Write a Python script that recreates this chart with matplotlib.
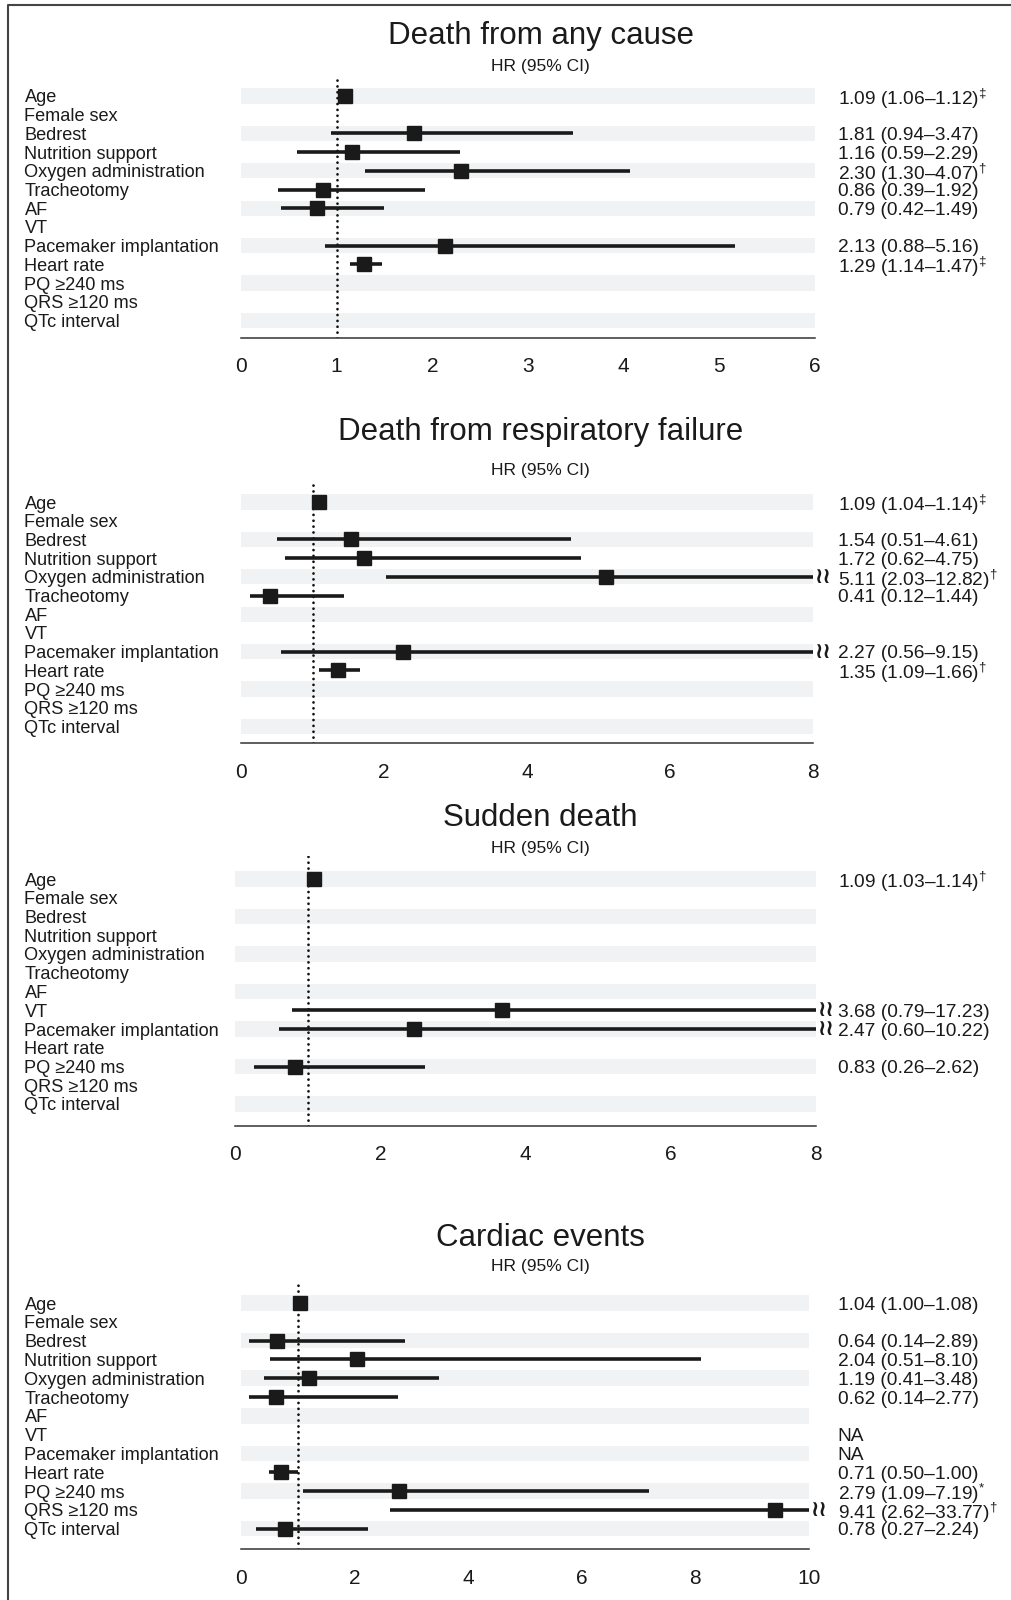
import matplotlib
matplotlib.use("Agg")
import matplotlib.pyplot as plt
from matplotlib.lines import Line2D
from matplotlib.transforms import blended_transform_factory

plt.rcParams['font.family'] = ['Liberation Sans', 'DejaVu Sans']
plt.rcParams['mathtext.fontset'] = 'custom'
plt.rcParams['mathtext.rm'] = 'Liberation Sans'
plt.rcParams['mathtext.it'] = 'Liberation Sans:italic'

W, H = 1011, 1600

labels = ["Age", "Female sex", "Bedrest", "Nutrition support", "Oxygen administration",
          "Tracheotomy", "AF", "VT", "Pacemaker implantation", "Heart rate",
          "PQ ≥240 ms", "QRS ≥120 ms", "QTc interval"]

# death from any cause
any_hr = [1.09, None, 1.81, 1.16, 2.30, 0.86, 0.79, None, 2.13, 1.29, None, None, None]
any_lo = [1.06, None, 0.94, 0.59, 1.30, 0.39, 0.42, None, 0.88, 1.14, None, None, None]
any_hi = [1.12, None, 3.47, 2.29, 4.07, 1.92, 1.49, None, 5.16, 1.47, None, None, None]
any_sig = ["‡", "", "", "", "†", "", "", "", "", "‡", "", "", ""]

# death from respiratory failure
resp_hr = [1.09, None, 1.54, 1.72, 5.11, 0.41, None, None, 2.27, 1.35, None, None, None]
resp_lo = [1.04, None, 0.51, 0.62, 2.03, 0.12, None, None, 0.56, 1.09, None, None, None]
resp_hi = [1.14, None, 4.61, 4.75, 12.82, 1.44, None, None, 9.15, 1.66, None, None, None]
resp_sig = ["‡", "", "", "", "†", "", "", "", "", "†", "", "", ""]

# sudden death
sud_hr = [1.09, None, None, None, None, None, None, 3.68, 2.47, None, 0.83, None, None]
sud_lo = [1.03, None, None, None, None, None, None, 0.79, 0.60, None, 0.26, None, None]
sud_hi = [1.14, None, None, None, None, None, None, 17.23, 10.22, None, 2.62, None, None]
sud_sig = ["†", "", "", "", "", "", "", "", "", "", "", "", ""]

# cardiac events
card_hr = [1.04, None, 0.64, 2.04, 1.19, 0.62, None, "NA", "NA", 0.71, 2.79, 9.41, 0.78]
card_lo = [1.00, None, 0.14, 0.51, 0.41, 0.14, None, None, None, 0.50, 1.09, 2.62, 0.27]
card_hi = [1.08, None, 2.89, 8.10, 3.48, 2.77, None, None, None, 1.00, 7.19, 33.77, 2.24]
card_sig = ["", "", "", "", "", "", "", "", "", "", "*", "†", ""]

titles = ["Death from any cause", "Death from respiratory failure", "Sudden death", "Cardiac events"]
xmaxes = [6, 8, 8, 10]
xsteps = [1, 2, 2, 2]

# layout in pixels: x0, x1, y of first row, row spacing, top row, bottom row, title y, subtitle y
layout = [
    (241, 815, 96, 18.7, -1.0, 12.92, 36, 66),
    (241, 813, 502, 18.7, -1.04, 12.9, 432, 471),
    (235, 816, 879, 18.75, -1.23, 13.16, 818, 848),
    (241, 809, 1303, 18.8, -1.1, 13.1, 1238, 1267),
]

panels = [
    (any_hr, any_lo, any_hi, any_sig),
    (resp_hr, resp_lo, resp_hi, resp_sig),
    (sud_hr, sud_lo, sud_hi, sud_sig),
    (card_hr, card_lo, card_hi, card_sig),
]

sup = {"‡": r"$^{\ddagger}$", "†": r"$^{\dagger}$", "*": r"$^{*}$", "": ""}

fig = plt.figure(figsize=(W / 100, H / 100), dpi=100)

# frame lines (top and left)
fig.add_artist(Line2D([8 / W, 8 / W, 1], [0, 1 - 5 / H, 1 - 5 / H], transform=fig.transFigure,
                      color="#444444", lw=1.5))

for p in range(4):
    hr, lo, hi, sig = panels[p]
    x0, x1, yrow, sp, top, bot, ty, sy = layout[p]
    xmax = xmaxes[p]
    ytop = yrow + top * sp
    ybot = yrow + bot * sp
    ax = fig.add_axes([x0 / W, 1 - ybot / H, (x1 - x0) / W, (ybot - ytop) / H])
    ax.set_xlim(0, xmax)
    ax.set_ylim(bot, top)

    for i in range(0, len(labels), 2):
        ax.axhspan(i - 0.41, i + 0.41, color="#f1f2f3", lw=0, zorder=0)

    ax.axvline(1, color="#111111", lw=2.0, linestyle=(0, (0.01, 2.1)),
               dash_capstyle="round", zorder=2)

    lab_tr = blended_transform_factory(fig.transFigure, ax.transData)
    for i, lab in enumerate(labels):
        ax.text(24.5 / W, i, lab, transform=lab_tr, ha="left", va="center_baseline",
                fontsize=13.1, color="#1a1a1a")
        v = hr[i]
        if v is None:
            continue
        if isinstance(v, str):
            txt = v
        else:
            txt = f"{v:.2f} ({lo[i]:.2f}–{hi[i]:.2f})" + sup[sig[i]]
            ax.plot([lo[i], min(hi[i], xmax)], [i, i], color="#1a1a1a", lw=2.6,
                    solid_capstyle="butt", zorder=3)
            ax.plot([v], [i], marker="s", ms=9.5, color="#1a1a1a", zorder=4)
            if hi[i] > xmax:
                ax.annotate("≀≀", xy=(xmax, i), xytext=(0.5, 0), textcoords="offset points",
                            ha="left", va="center", fontsize=16, fontweight="bold",
                            color="#1a1a1a", family=["DejaVu Sans"], annotation_clip=False)
        ax.text(837.6 / W, i, txt, transform=lab_tr, ha="left", va="center_baseline",
                fontsize=13.8, color="#1a1a1a")

    for s in ["top", "left", "right"]:
        ax.spines[s].set_visible(False)
    ax.spines["bottom"].set_color("#333333")
    ax.spines["bottom"].set_linewidth(1.1)
    ax.set_yticks([])
    ax.set_xticks(range(0, xmax + 1, xsteps[p]))
    ax.tick_params(axis="x", length=0, pad=14, labelsize=15, colors="#1a1a1a")
    ax.patch.set_visible(False)

    fig.text(540.7 / W, 1 - ty / H, titles[p], ha="center", va="center", fontsize=22.5,
             color="#1a1a1a")
    fig.text(540.7 / W, 1 - sy / H, "HR (95% CI)", ha="center", va="center", fontsize=12.5,
             color="#1a1a1a")

fig.savefig("out.png", dpi=100)
